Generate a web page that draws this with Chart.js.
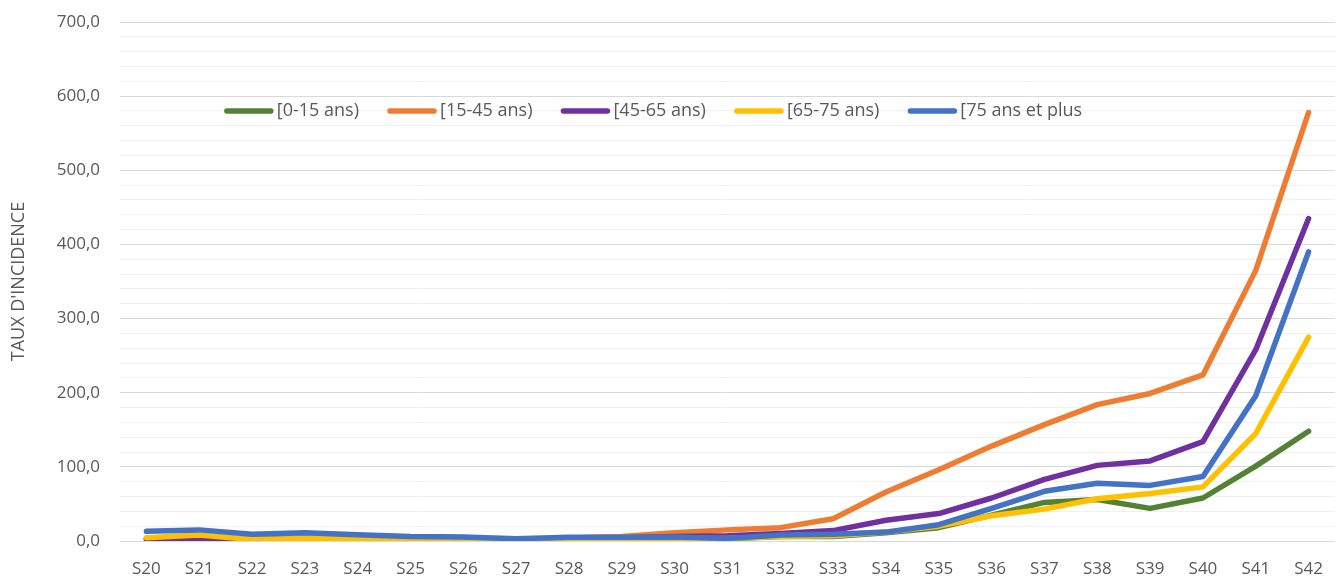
<!DOCTYPE html>
<html>
<head>
<meta charset="utf-8">
<title>Taux d'incidence par classe d'âge</title>
<script src="https://cdn.jsdelivr.net/npm/chart.js@4/dist/chart.umd.min.js"></script>
<style>
  html, body { margin: 0; padding: 0; background: #ffffff; }
  canvas { display: block; }
</style>
</head>
<body>
<canvas id="chart" width="1343" height="578"></canvas>
<script>
// Semaines
const weeks = ['S20','S21','S22','S23','S24','S25','S26','S27','S28','S29','S30','S31',
               'S32','S33','S34','S35','S36','S37','S38','S39','S40','S41','S42'];

// Taux d'incidence hebdomadaire par classe d'âge
const age0to15  = [3, 5, 2, 3, 2, 2, 2, 1.5, 3, 3, 3, 3, 6, 6, 11, 18, 35, 52, 56, 44, 58, 101, 148];
const age15to45 = [3, 5, 3, 4, 3, 3, 3, 2, 4, 6, 11, 15, 18, 30, 66, 96, 128, 157, 184, 199, 224, 365, 578];
const age45to65 = [2, 3, 1.5, 3, 2, 2, 2, 1.5, 4, 4, 6, 7, 10, 14, 28, 37, 58, 83, 102, 108, 134, 258, 435];
const age65to75 = [4.5, 8, 2, 3.5, 2.5, 2, 2, 1.5, 2.5, 3, 3.5, 3.5, 6, 7, 12, 20, 34, 43, 57, 64, 73, 145, 275];
const age75plus = [13, 15, 9, 11, 8.5, 6, 5.5, 3, 5, 5, 5.5, 3.5, 8, 9, 12, 22, 44, 67, 78, 75, 87, 196, 390];

const seriesLabels = ['[0-15 ans)', '[15-45 ans)', '[45-65 ans)', '[65-75 ans)', '[75 ans et plus'];
const seriesColors = ['#548235', '#ED7D31', '#7030A0', '#FFC000', '#4472C4'];

const FONT = '"Open Sans", "Noto Sans", sans-serif';
const TEXT_COLOR = '#595959';

// Légende horizontale dessinée à l'intérieur de la zone de tracé
const innerLegend = {
  id: 'innerLegend',
  afterDatasetsDraw(chart) {
    const ctx = chart.ctx;
    const sample = 50, textGap = 3, itemGap = 28;
    ctx.save();
    ctx.font = '18px ' + FONT;
    const items = chart.data.datasets.map(ds => ({
      label: ds.label,
      color: ds.borderColor,
      w: sample + textGap + ctx.measureText(ds.label).width
    }));
    const total = items.reduce((s, it) => s + it.w, 0) + itemGap * (items.length - 1);
    let x = 653 - total / 2;
    const y = chart.scales.y.getPixelForValue(580);
    ctx.lineCap = 'round';
    ctx.lineWidth = 5.5;
    ctx.textBaseline = 'middle';
    ctx.textAlign = 'left';
    items.forEach(it => {
      ctx.strokeStyle = it.color;
      ctx.beginPath();
      ctx.moveTo(x + 3, y);
      ctx.lineTo(x + sample - 3, y);
      ctx.stroke();
      ctx.fillStyle = TEXT_COLOR;
      ctx.fillText(it.label, x + sample + textGap, y);
      x += it.w + itemGap;
    });
    ctx.restore();
  }
};

const seriesData = [age0to15, age15to45, age45to65, age65to75, age75plus];

new Chart(document.getElementById('chart'), {
  type: 'line',
  data: {
    labels: weeks,
    datasets: seriesData.map((values, i) => ({
      label: seriesLabels[i],
      data: values,
      borderColor: seriesColors[i],
      backgroundColor: seriesColors[i],
      borderWidth: 5.5,
      borderCapStyle: 'round',
      borderJoinStyle: 'round',
      pointRadius: 0,
      tension: 0,
      fill: false,
      order: seriesData.length - i
    }))
  },
  options: {
    responsive: false,
    animation: false,
    devicePixelRatio: 1,
    layout: { padding: { top: 22, right: 8, bottom: 0, left: 0 } },
    plugins: {
      legend: { display: false },
      tooltip: { enabled: false }
    },
    scales: {
      x: {
        offset: true,
        grid: { display: false },
        border: { display: false },
        ticks: {
          color: TEXT_COLOR,
          font: { family: FONT, size: 17 },
          padding: 10,
          autoSkip: false,
          maxRotation: 0
        },
        afterFit(scale) { scale.height = 37; }
      },
      y: {
        min: 0,
        max: 700,
        border: { display: false },
        grid: {
          drawTicks: false,
          lineWidth: 1,
          color: ctx => (ctx.tick && ctx.tick.value % 100 === 0) ? '#d9d9d9' : '#f0f0f0'
        },
        ticks: {
          stepSize: 20,
          autoSkip: false,
          padding: 20,
          color: TEXT_COLOR,
          font: { family: FONT, size: 17 },
          callback: v => (v % 100 === 0) ? v.toFixed(1).replace('.', ',') : ''
        },
        title: {
          display: true,
          text: "TAUX D'INCIDENCE",
          color: TEXT_COLOR,
          font: { family: FONT, size: 18 },
          padding: { top: 8, bottom: 0 }
        },
        afterFit(scale) {
          scale.width = 120;
          scale.paddingTop = 0;
          scale.paddingBottom = 0;
        }
      }
    }
  },
  plugins: [innerLegend]
});
</script>
</body>
</html>
